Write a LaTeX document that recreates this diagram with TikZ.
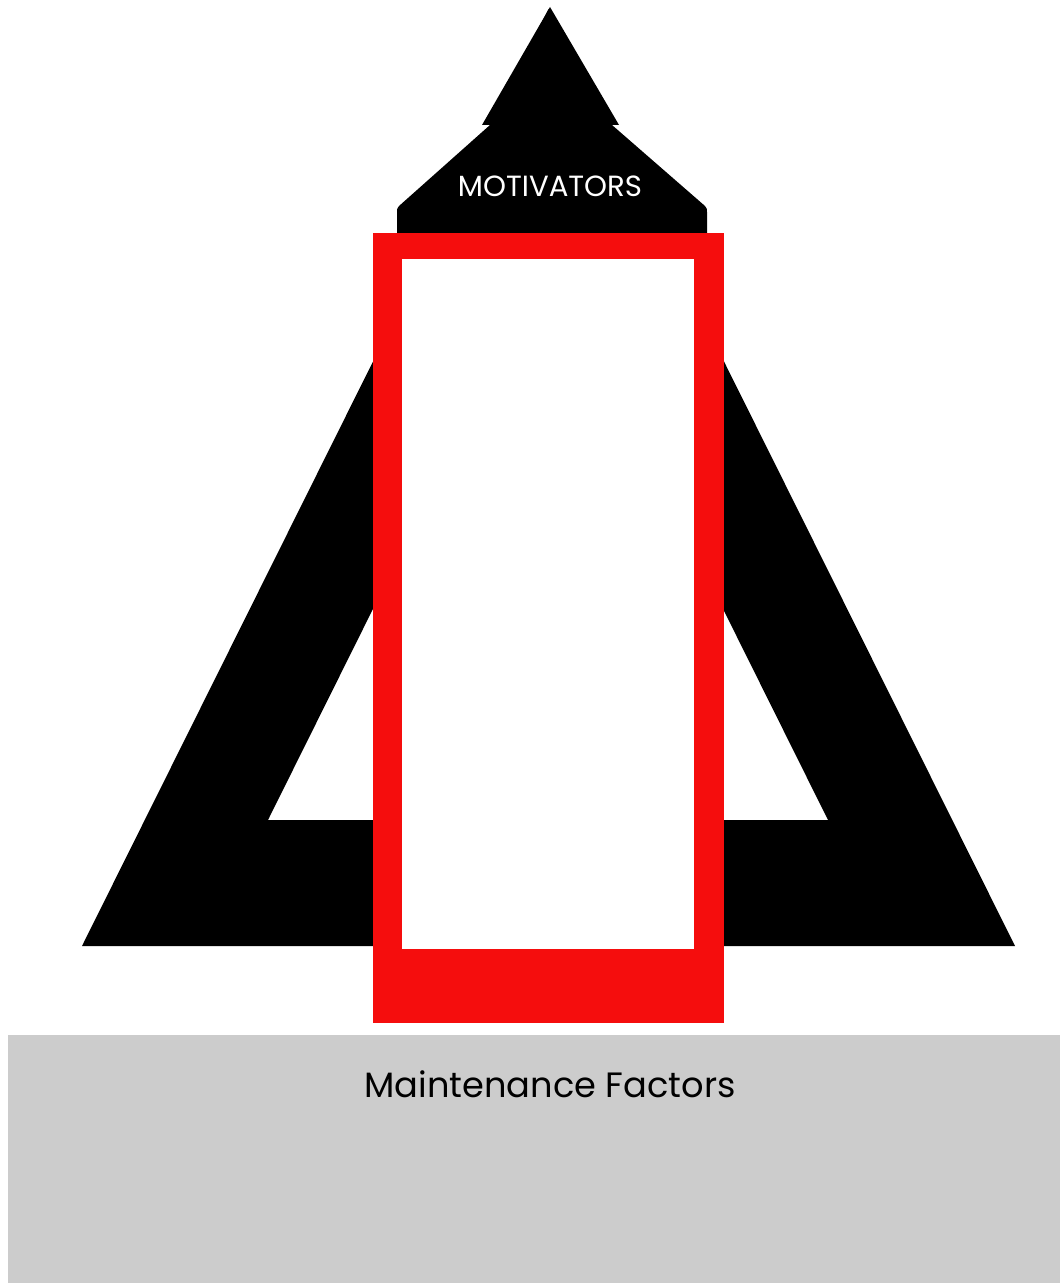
\documentclass[tikz,border=0pt]{standalone}
\usepackage{fontspec}
\setmainfont{Poppins}
\usepackage{tikz}
\definecolor{framered}{HTML}{F50D0D}
\definecolor{basegray}{HTML}{CCCCCC}

\begin{document}
\begin{tikzpicture}[x=0.5pt, y=-0.5pt, every node/.style={inner sep=0pt, anchor=base}]
        \useasboundingbox (0,0) rectangle (1060,1283);
        % Define the base
        \fill[basegray] (8,1035) rectangle (1060,1283);
        \node (maint) at (550,1097) {\fontsize{17.6}{20}\selectfont Maintenance Factors};

        % Define the triangle and the arrow on top
        \fill[black, even odd rule] (82,946) -- (548.5,9) -- (1015,946) -- cycle
                (268,820) -- (548,257) -- (828,820) -- cycle;
        \fill[black] (550,7) -- (482,125) -- (490,125) -- (399,206)
                to[out=220,in=90] (397,212) -- (397,234) -- (707,234) -- (707,212)
                to[out=90,in=-40] (705,206) -- (612,125) -- (619,125) -- cycle;
        \node[text=white] (mot) at (550,197) {\fontsize{14.6}{16}\selectfont MOTIVATORS};

        % Define the red frame
        \fill[framered] (373,233) rectangle (724,1023);
        \fill[white] (402,259) rectangle (694,949);
    \end{tikzpicture}
\end{document}
